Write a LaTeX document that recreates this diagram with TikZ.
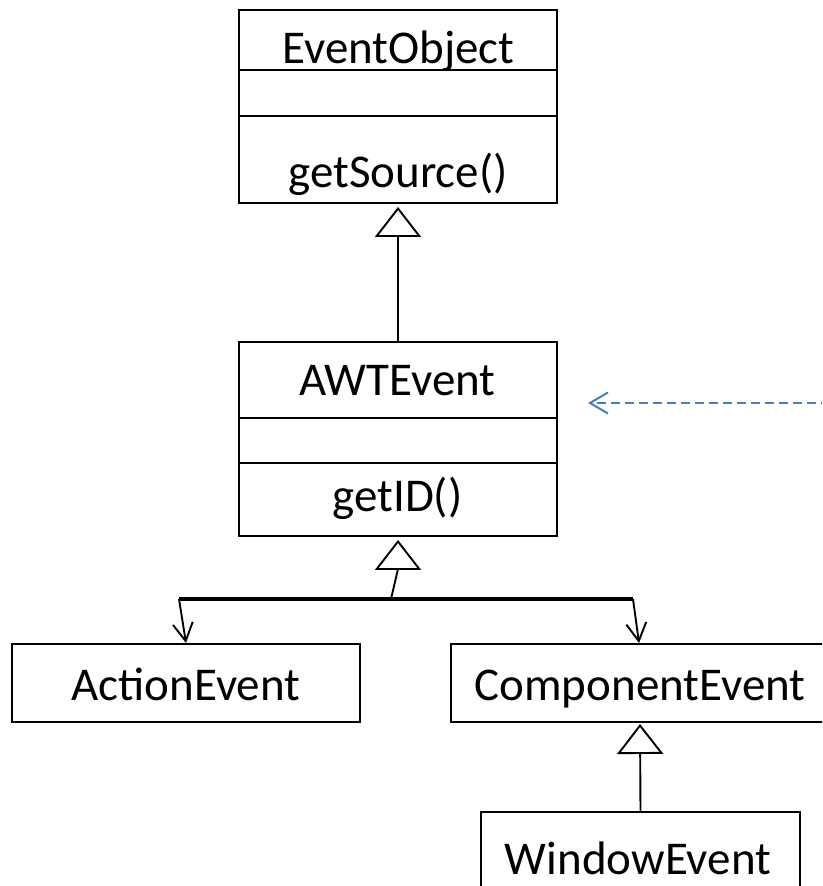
\documentclass[tikz,border=0pt]{standalone}
\usepackage{fontspec}
\setmainfont{Carlito}
\usetikzlibrary{arrows.meta}
\definecolor{linkblue}{HTML}{4A7EBB}
\begin{document}
\begin{tikzpicture}[x=1pt,y=1pt,
  cls/.style={draw=black, line width=1.9pt, fill=white, inner sep=0pt},
  lbl/.style={anchor=base, inner sep=0pt, font=\fontsize{47}{56}\selectfont},
  inherit/.style={draw=black, line width=1.9pt,
    -{Triangle[open, length=30pt, width=46pt, fill=white]}, shorten >=3pt},
  assoc/.style={draw=black, line width=1.9pt,
    -{Straight Barb[length=18pt, width=20pt]}},
  bus/.style={draw=black, line width=3.3pt},
  dep/.style={draw=linkblue, line width=2pt, dash pattern=on 9pt off 5pt,
    -{Straight Barb[length=18pt, width=21pt]}}]
\clip (0,0) rectangle (822,-886);
\fill[white] (0,0) rectangle (822,-886);

% EventObject class: name, attributes, operations
\node[cls, minimum width=318pt, minimum height=60pt] (eoN) at (398,-40) {};
\node[cls, minimum width=318pt, minimum height=46pt] (eoA) at (398,-93) {};
\node[cls, minimum width=318pt, minimum height=87pt] (eoO) at (398,-159.5) {};
\node[lbl] (eoNt) at (398.5,-63) {EventObject};
\node[lbl] (eoOt) at (398,-187) {getSource()};

% AWTEvent class
\node[cls, minimum width=318pt, minimum height=76pt] (awN) at (398,-380) {};
\node[cls, minimum width=318pt, minimum height=45pt] (awA) at (398,-440.5) {};
\node[cls, minimum width=318pt, minimum height=73pt] (awO) at (398,-499.5) {};
\node[lbl] (awNt) at (397.5,-395.5) {AWTEvent};
\node[lbl] (awOt) at (397.5,-511.5) {getID()};

% subclasses
\node[cls, minimum width=348pt, minimum height=78pt] (ae) at (186,-683) {};
\node[lbl] (aet) at (186,-700) {ActionEvent};
\node[cls, minimum width=378pt, minimum height=78pt] (ce) at (640,-683) {};
\node[lbl] (cet) at (640,-700) {ComponentEvent};
\node[cls, minimum width=319pt, minimum height=90pt] (we) at (640.5,-857) {};
\node[lbl] (wet) at (638,-874) {WindowEvent};

% generalisation AWTEvent -> EventObject
\draw[inherit] (awN.north) -- (eoO.south);

% shared generalisation of the two subclasses -> AWTEvent
\coordinate (hub) at (391,-599);
\coordinate (busL) at (179,-599);
\coordinate (busR) at (633,-599);
\coordinate (hubTop) at (398,-569);
\draw[inherit] (hub) -- (hubTop) -- (awO.south);
\draw[bus] (busL) -- (busR);
\draw[assoc] (busL) -- (ae.north);
\draw[assoc] (busR) -- ([xshift=-1pt]ce.north);

% generalisation WindowEvent -> ComponentEvent
\draw[inherit, shorten >=1pt] (we.north) -- (ce.south);

% dependency arriving from the right
\coordinate (depFrom) at (830,-403);
\coordinate (depTo) at (588,-403);
\draw[dep] (depFrom) -- (depTo);
\end{tikzpicture}
\end{document}
